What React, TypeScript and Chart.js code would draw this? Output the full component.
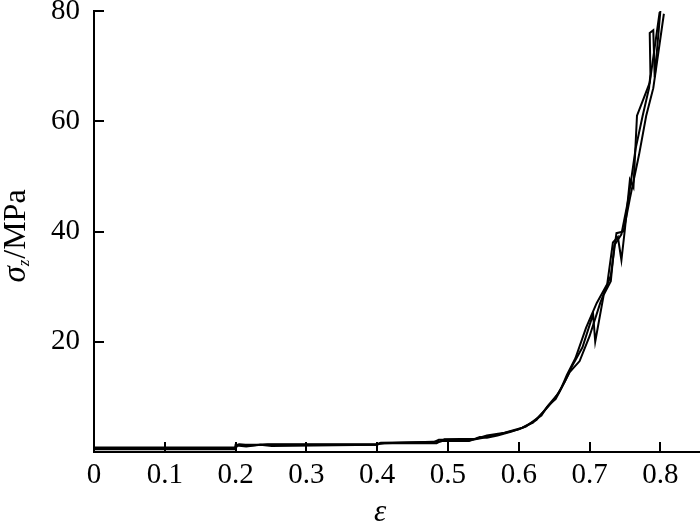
import React, { useEffect, useRef } from "react";
import { Chart, registerables } from "chart.js";

Chart.register(...registerables);

// Axis ticks
const xTickValues = [0, 0.1, 0.2, 0.3, 0.4, 0.5, 0.6, 0.7, 0.8];
const xTickLabels = ["0", "0.1", "0.2", "0.3", "0.4", "0.5", "0.6", "0.7", "0.8"];
const yTickValues = [20, 40, 60, 80];
const yTickLabels = ["20", "40", "60", "80"];

// Series 1 (strain ε, stress σz in MPa)
const eps1 = [0, 0.199, 0.2, 0.25, 0.4, 0.403, 0.484, 0.49, 0.53, 0.545, 0.555, 0.57, 0.59, 0.61, 0.625, 0.632, 0.64, 0.655, 0.665, 0.675, 0.69, 0.705, 0.708, 0.72, 0.73, 0.735, 0.745, 0.755, 0.765, 0.775, 0.784, 0.786, 0.785, 0.79, 0.792, 0.80];
const sig1 = [0.6, 0.6, 1.3, 1.3, 1.3, 1.6, 1.6, 2.0, 2.0, 2.7, 2.6, 3.0, 3.7, 4.6, 6.0, 6.6, 8.2, 10.5, 12.8, 15.5, 19.0, 25.0, 20.0, 28.5, 31.0, 37.5, 39.5, 46.0, 55.0, 61.0, 66.0, 68.5, 76.0, 76.5, 68.0, 80.0];

// Series 2
const eps2 = [0, 0.2, 0.202, 0.215, 0.235, 0.251, 0.4, 0.405, 0.48, 0.487, 0.535, 0.55, 0.575, 0.6, 0.62, 0.635, 0.65, 0.66, 0.672, 0.686, 0.7, 0.715, 0.73, 0.738, 0.748, 0.757, 0.77, 0.78, 0.79, 0.805];
const sig2 = [0.5, 0.5, 1.2, 1.0, 1.3, 1.1, 1.3, 1.7, 1.8, 2.2, 2.2, 2.6, 3.3, 4.1, 5.3, 7.3, 9.5, 11.5, 14.5, 16.5, 21.0, 27.0, 32.0, 39.7, 40.0, 46.0, 54.0, 61.0, 66.0, 79.5];

// Series 3
const eps3 = [0, 0.199, 0.205, 0.22, 0.245, 0.4, 0.41, 0.49, 0.495, 0.54, 0.555, 0.58, 0.605, 0.625, 0.643, 0.652, 0.658, 0.668, 0.68, 0.695, 0.71, 0.725, 0.733, 0.74, 0.745, 0.75, 0.757, 0.762, 0.767, 0.785, 0.799];
const sig3 = [0.8, 0.8, 1.4, 1.2, 1.4, 1.4, 1.6, 1.9, 2.3, 2.4, 3.0, 3.5, 4.4, 5.8, 8.6, 9.6, 11.0, 14.0, 17.0, 22.5, 27.0, 30.5, 38.0, 39.0, 34.8, 40.5, 49.4, 48.0, 61.0, 67.0, 79.8];

const SERIF = "'Liberation Serif', 'Times New Roman', serif";

const inwardTicks = {
  id: "inwardTicks",
  afterDatasetsDraw(chart: any) {
    const { ctx, chartArea, scales } = chart;
    ctx.save();
    ctx.strokeStyle = "#000";
    ctx.lineWidth = 2;
    ctx.beginPath();
    xTickValues.forEach((v) => {
      if (v === 0) return;
      const px = Math.round(scales.x.getPixelForValue(v));
      ctx.moveTo(px, chartArea.bottom);
      ctx.lineTo(px, chartArea.bottom - 10);
    });
    yTickValues.forEach((v) => {
      const py = Math.round(scales.y.getPixelForValue(v));
      ctx.moveTo(chartArea.left, py);
      ctx.lineTo(chartArea.left + 10, py);
    });
    ctx.stroke();
    ctx.restore();
  },
};

const axisTitles = {
  id: "axisTitles",
  afterDraw(chart: any) {
    const { ctx } = chart;
    ctx.save();
    ctx.fillStyle = "#000";
    // x title
    ctx.font = `italic 31px ${SERIF}`;
    ctx.textAlign = "center";
    ctx.textBaseline = "alphabetic";
    ctx.fillText("ε", 380, 521);
    // y title rotated
    ctx.translate(25, 236);
    ctx.rotate(-Math.PI / 2);
    ctx.textAlign = "left";
    const mainFont = `italic 33px ${SERIF}`;
    const subFont = `italic 17px ${SERIF}`;
    const restFont = `32px ${SERIF}`;
    ctx.font = mainFont;
    const w1 = ctx.measureText("σ").width;
    ctx.font = subFont;
    const w2 = ctx.measureText("z").width;
    ctx.font = restFont;
    const w3 = ctx.measureText("/MPa").width;
    const total = w1 + w2 + 1 + w3;
    let x0 = -total / 2;
    ctx.font = mainFont;
    ctx.fillText("σ", x0, 0);
    x0 += w1;
    ctx.font = subFont;
    ctx.fillText("z", x0, 4);
    x0 += w2 + 1;
    ctx.font = restFont;
    ctx.fillText("/MPa", x0, 0);
    ctx.restore();
  },
};

function makeSeries(eps: number[], sig: number[]) {
  return {
    data: eps.map((e, i) => ({ x: e, y: sig[i] })),
    showLine: true,
    borderColor: "#000",
    backgroundColor: "#000",
    borderWidth: 2,
    pointRadius: 0,
    fill: false,
    tension: 0,
  };
}

export default function App() {
  const ref = useRef<HTMLCanvasElement>(null);
  useEffect(() => {
    document.body.style.margin = "0";
    const canvas = ref.current!;
    const chart = new Chart(canvas, {
      type: "scatter",
      data: {
        datasets: [makeSeries(eps1, sig1), makeSeries(eps2, sig2), makeSeries(eps3, sig3)],
      },
      options: {
        animation: false,
        responsive: false,
        maintainAspectRatio: false,
        layout: { padding: { top: 11, right: 0, left: 0, bottom: 0 } },
        plugins: { legend: { display: false }, tooltip: { enabled: false } },
        scales: {
          x: {
            type: "linear",
            min: 0,
            max: 0.856,
            afterBuildTicks: (s: any) => {
              s.ticks = xTickValues.map((v) => ({ value: v }));
            },
            afterFit: (s: any) => {
              s.height = 72;
              s.paddingLeft = 0;
              s.paddingRight = 0;
            },
            grid: { display: false, drawTicks: false },
            border: { display: true, color: "#000", width: 2 },
            ticks: {
              autoSkip: false,
              maxRotation: 0,
              padding: 6,
              color: "#000",
              font: { family: SERIF, size: 29 },
              callback: (_v: any, i: number) => xTickLabels[i],
            },
          },
          y: {
            type: "linear",
            min: 0,
            max: 80,
            afterBuildTicks: (s: any) => {
              s.ticks = yTickValues.map((v) => ({ value: v }));
            },
            afterFit: (s: any) => {
              s.width = 94;
              s.paddingTop = 0;
              s.paddingBottom = 0;
            },
            grid: { display: false, drawTicks: false },
            border: { display: true, color: "#000", width: 2 },
            ticks: {
              autoSkip: false,
              padding: 14,
              color: "#000",
              font: { family: SERIF, size: 29 },
              callback: (_v: any, i: number) => yTickLabels[i],
            },
          },
        },
      },
      plugins: [inwardTicks, axisTitles],
    });
    return () => chart.destroy();
  }, []);
  return (
    <div style={{ position: "absolute", left: 0, top: 0, width: 700, height: 524, background: "#fff" }}>
      <canvas ref={ref} width={700} height={524} style={{ width: 700, height: 524, display: "block" }} />
    </div>
  );
}
